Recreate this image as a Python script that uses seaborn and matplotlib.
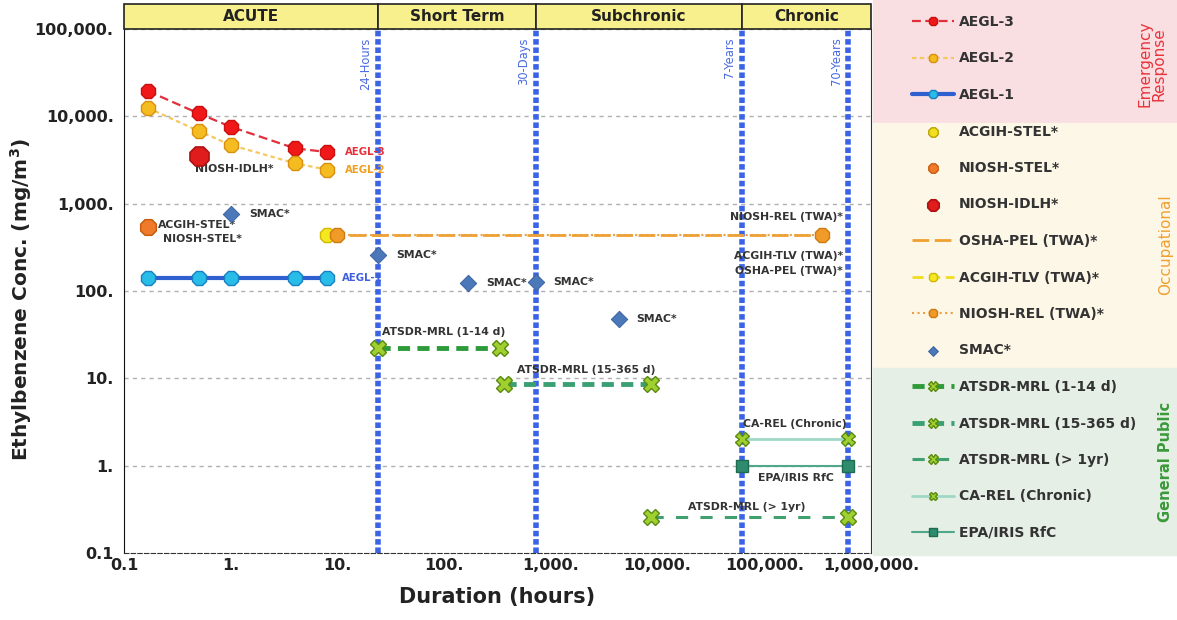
import numpy as np
import pandas as pd
import seaborn as sns
import matplotlib.pyplot as plt
import matplotlib.transforms as mtransforms
from matplotlib.patches import Rectangle

# durations (hours) and concentrations (mg/m3)
aegl_hours = [0.167, 0.5, 1, 4, 8]
aegl3 = [19500, 10800, 7600, 4300, 3900]
aegl2 = [12500, 6800, 4700, 2900, 2450]
aegl1 = [140, 140, 140, 140, 140]

stel_hours = [0.167]
acgih_stel = [545]
niosh_stel = [545]
idlh_hours = [0.5]
niosh_idlh = [3470]

osha_pel_hours = [8, 350400]
osha_pel = [435, 435]
acgih_tlv_hours = [8]
acgih_tlv = [435]
niosh_rel_hours = [10, 350400]
niosh_rel = [435, 435]

smac_hours = [1, 24, 168, 720, 4320]
smac = [770, 255, 125, 128, 48]

mrl_acute_hours = [24, 336]
mrl_acute = [22, 22]
mrl_inter_hours = [360, 8760]
mrl_inter = [8.7, 8.7]
mrl_chronic_hours = [8760, 613200]
mrl_chronic = [0.26, 0.26]
carel_hours = [61320, 613200]
carel = [2, 2]
rfc_hours = [61320, 613200]
rfc = [1, 1]

period_edges = [0.1, 24, 720, 61320, 1e6]
period_names = ["ACUTE", "Short Term", "Subchronic", "Chronic"]
marker_hours = [24, 720, 61320, 613200]
marker_names = ["24-Hours", "30-Days", "7-Years", "70-Years"]

xticks = [0.1, 1, 10, 100, 1000, 10000, 100000, 1000000]
xtick_labels = ["0.1", "1.", "10.", "100.", "1,000.", "10,000.", "100,000.", "1,000,000."]
yticks = [0.1, 1, 10, 100, 1000, 10000, 100000]
ytick_labels = ["0.1", "1.", "10.", "100.", "1,000.", "10,000.", "100,000."]

sns.set_style("white")
plt.rcParams["font.family"] = ["DejaVu Sans"]
plt.rcParams["font.weight"] = "bold"

W, H = 1177, 620
fig = plt.figure(figsize=(W / 100, H / 100), dpi=100)

# legend panel backgrounds
for y0, y1, c in [(0, 123, "#f9dfe2"), (123, 368, "#fdf7e7"), (368, 555, "#e6efe5")]:
    fig.patches.append(Rectangle((873 / W, 1 - y1 / H), (W - 873) / W, (y1 - y0) / H,
                                 transform=fig.transFigure, color=c, zorder=0))

ax = fig.add_axes([124 / W, 1 - 553 / H, (871 - 124) / W, (553 - 29) / H])
ax.set_xscale("log")
ax.set_yscale("log")
ax.set_xlim(0.1, 1e6)
ax.set_ylim(0.1, 1e5)

# horizontal grid
for yv in yticks[1:]:
    ax.axhline(yv, color="#b0b0b0", lw=1, ls=(0, (3, 3)), zorder=1)

# period marker lines
for h in marker_hours:
    ax.axvline(h, color="#3b63e6", lw=4, ls=(0, (1.0, 0.5)), zorder=2)

line_kw = dict(ax=ax, markeredgewidth=1)

sns.lineplot(x=aegl_hours, y=aegl3, color="#e0303c", ls=(0, (4, 2)), lw=1.6, marker="8",
             markersize=11, markerfacecolor="#f01818", markeredgecolor="#c81010", label="AEGL-3", **line_kw)
sns.lineplot(x=aegl_hours, y=aegl2, color="#f5c860", ls=(0, (2, 1.5)), lw=1.6, marker="8",
             markersize=11, markerfacecolor="#f4bc20", markeredgecolor="#d89010", label="AEGL-2", **line_kw)
sns.lineplot(x=aegl_hours, y=aegl1, color="#3060d0", lw=3, marker="8",
             markersize=11, markerfacecolor="#28bce8", markeredgecolor="#1a80c0", label="AEGL-1", **line_kw)

sns.scatterplot(x=stel_hours, y=acgih_stel, ax=ax, marker="8", s=150, color="#f0e020",
                edgecolor="#b8a000", label="ACGIH-STEL*", zorder=4)
sns.scatterplot(x=stel_hours, y=niosh_stel, ax=ax, marker="8", s=150, color="#ee7a2a",
                edgecolor="#c85a10", label="NIOSH-STEL*", zorder=5)
sns.scatterplot(x=idlh_hours, y=niosh_idlh, ax=ax, marker="8", s=220, color="#e01c1c",
                edgecolor="#b01010", label="NIOSH-IDLH*", zorder=5)

sns.lineplot(x=osha_pel_hours, y=osha_pel, color="#f0a030", ls=(0, (6, 2)), lw=2,
             label="OSHA-PEL (TWA)*", **line_kw)
sns.lineplot(x=acgih_tlv_hours, y=acgih_tlv, color="#f2dc20", ls=(0, (4, 2)), lw=2, marker="8",
             markersize=11, markerfacecolor="#f5e820", markeredgecolor="#d0b800", label="ACGIH-TLV (TWA)*", **line_kw)
sns.lineplot(x=niosh_rel_hours, y=niosh_rel, color="#e8a040", ls=":", lw=1.5, marker="8",
             markersize=11, markerfacecolor="#f09a28", markeredgecolor="#d07a10", label="NIOSH-REL (TWA)*", **line_kw)

sns.scatterplot(x=smac_hours, y=smac, ax=ax, marker="D", s=70, color="#4a78b8",
                edgecolor="#3a60a0", label="SMAC*", zorder=5)

sns.lineplot(x=mrl_acute_hours, y=mrl_acute, color="#2d9b3a", ls=(0, (2.5, 1.5)), lw=3.5, marker="X",
             markersize=11, markerfacecolor="#9fd030", markeredgecolor="#5a8a10", label="ATSDR-MRL (1-14 d)", **line_kw)
sns.lineplot(x=mrl_inter_hours, y=mrl_inter, color="#3aa074", ls=(0, (2.5, 1.5)), lw=3.5, marker="X",
             markersize=11, markerfacecolor="#9fd030", markeredgecolor="#5a8a10", label="ATSDR-MRL (15-365 d)", **line_kw)
sns.lineplot(x=mrl_chronic_hours, y=mrl_chronic, color="#40a070", ls=(0, (4, 4)), lw=2.2, marker="X",
             markersize=11, markerfacecolor="#9fd030", markeredgecolor="#5a8a10", label="ATSDR-MRL (> 1yr)", **line_kw)
sns.lineplot(x=carel_hours, y=carel, color="#9fd8c6", lw=2, marker="X",
             markersize=10, markerfacecolor="#9fd030", markeredgecolor="#5a8a10", label="CA-REL (Chronic)", **line_kw)
sns.lineplot(x=rfc_hours, y=rfc, color="#50a88c", lw=1.5, marker="s",
             markersize=9, markerfacecolor="#2e8b6e", markeredgecolor="#1e6b50", label="EPA/IRIS RfC", **line_kw)

# annotations
def note(txt, x, y, dx, dy, color="#333333", ha="left", va="center", size=7.8):
    ax.annotate(txt, (x, y), xytext=(dx, dy), textcoords="offset points",
                ha=ha, va=va, color=color, fontsize=size, fontweight="bold")

note("AEGL-3", aegl_hours[-1], aegl3[-1], 13, 0, color="#e8303a", size=7.3)
note("AEGL-2", aegl_hours[-1], aegl2[-1], 13, 0, color="#f0a020", size=7.3)
note("AEGL-1", aegl_hours[-1], aegl1[-1], 11, 0, color="#4060e0", size=7.3)
note("NIOSH-IDLH*", idlh_hours[0], niosh_idlh[0], 26, -9, ha="center")
note("ACGIH-STEL*", stel_hours[0], acgih_stel[0], 7, 1)
note("NIOSH-STEL*", stel_hours[0], niosh_stel[0], 11, -9)
for h, v in zip(smac_hours, smac):
    note("SMAC*", h, v, 13, 0)
note("NIOSH-REL (TWA)*", niosh_rel_hours[-1], niosh_rel[-1], 15, 13, ha="right")
note("ACGIH-TLV (TWA)*", niosh_rel_hours[-1], niosh_rel[-1], 15, -15, ha="right")
note("OSHA-PEL (TWA)*", niosh_rel_hours[-1], niosh_rel[-1], 15, -26, ha="right")
note("ATSDR-MRL (1-14 d)", mrl_acute_hours[0], mrl_acute[0], 3, 12)
note("ATSDR-MRL (15-365 d)", mrl_inter_hours[0], mrl_inter[0], 10, 10)
note("ATSDR-MRL (> 1yr)", mrl_chronic_hours[0], mrl_chronic[0], 26, 7)
note("CA-REL (Chronic)", carel_hours[0], carel[0], 1, 11)
note("EPA/IRIS RfC", rfc_hours[0], rfc[0], 12, -9)

for h, name in zip(marker_hours, marker_names):
    ax.annotate(name, (h, 1), xycoords=("data", "axes fraction"), xytext=(-4, -6),
                textcoords="offset points", rotation=90, ha="right", va="top",
                color="#4a6ae0", fontsize=8.3, fontweight="normal")

# header bar
trans = mtransforms.blended_transform_factory(ax.transData, ax.transAxes)
hb = 25 / 524
for (x0, x1), name in zip(zip(period_edges[:-1], period_edges[1:]), period_names):
    ax.add_patch(Rectangle((x0, 1), x1 - x0, hb, transform=trans, facecolor="#f7f08c",
                           edgecolor="#222222", lw=1.2, clip_on=False, zorder=6))
    ax.text(np.sqrt(x0 * x1), 1 + hb / 2, name, transform=trans, ha="center", va="center",
            fontsize=11, fontweight="bold", color="#222222", zorder=7)

# axes styling
ax.set_xticks(xticks)
ax.set_xticklabels(xtick_labels)
ax.set_yticks(yticks)
ax.set_yticklabels(ytick_labels)
ax.tick_params(axis="both", labelsize=11.5, colors="#222222", length=4, direction="out")
ax.tick_params(axis="x", which="both", direction="in")
ax.tick_params(axis="y", which="minor", length=2)
ax.tick_params(axis="x", which="minor", length=3)
for lbl in ax.get_xticklabels() + ax.get_yticklabels():
    lbl.set_fontweight("bold")
ax.spines["left"].set_color("#111111")
ax.spines["bottom"].set_linestyle((0, (4, 2)))
ax.spines["bottom"].set_color("#333333")
ax.spines["right"].set_linestyle((0, (2, 1)))
ax.spines["right"].set_color("#333333")
ax.spines["top"].set_visible(False)
ax.set_xlabel("Duration (hours)", fontsize=15, fontweight="bold", color="#222222", labelpad=10)
ax.set_ylabel("Ethylbenzene Conc. (mg/m$^\\mathbf{3}$)", fontsize=14.5, fontweight="bold",
              color="#222222")
ax.yaxis.set_label_coords(-0.121, 0.483)

# legend
handles, labels = ax.get_legend_handles_labels()
ax.legend_.remove() if ax.legend_ else None
leg = fig.legend(handles, labels, loc="upper left", bbox_to_anchor=(912 / W, 1 - 15 / H),
                 frameon=False, fontsize=10, labelspacing=1.62, handlelength=3.0,
                 handletextpad=0.4, borderpad=0, borderaxespad=0, markerscale=0.6)
for t in leg.get_texts():
    t.set_fontweight("bold")
    t.set_color("#333333")

fig.text(1152 / W, 1 - 64 / H, "Emergency\nResponse", rotation=90, ha="center", va="center",
         color="#e8333a", fontsize=11, fontweight="normal", linespacing=0.95)
fig.text(1166 / W, 1 - 245 / H, "Occupational", rotation=90, ha="center", va="center",
         color="#f0a030", fontsize=11, fontweight="normal")
fig.text(1166 / W, 1 - 462 / H, "General Public", rotation=90, ha="center", va="center",
         color="#3a9a3a", fontsize=10.5, fontweight="bold")

fig.savefig("out.png", dpi=100)
